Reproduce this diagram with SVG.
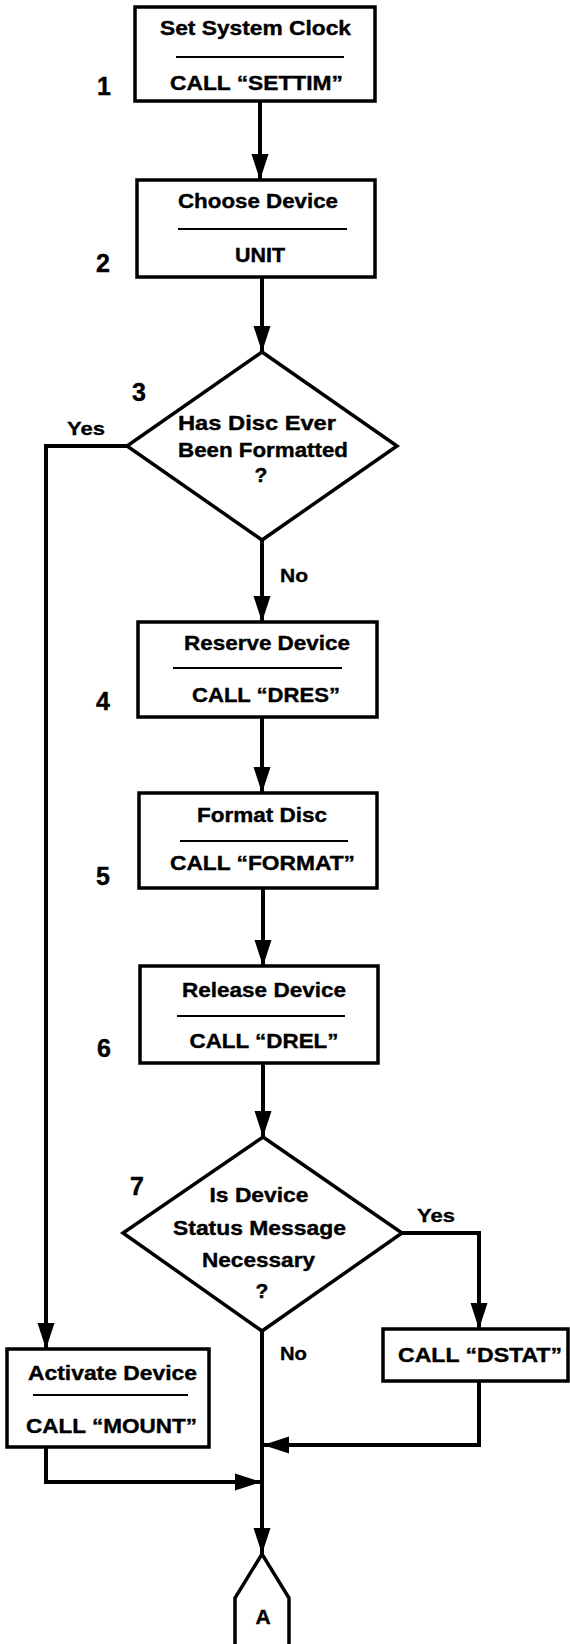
<svg xmlns="http://www.w3.org/2000/svg" width="570" height="1644" viewBox="0 0 570 1644">
  <style>
    .box { fill: #fff; stroke: #000; stroke-width: 3.5; }
    .rule { stroke: #000; stroke-width: 2; }
    .t { font-family: "Liberation Sans", Arial, Helvetica, sans-serif; font-weight: bold; font-size: 21px; fill: #000; stroke: #000; stroke-width: 0.4; text-anchor: middle; }
    .lbl { font-family: "Liberation Sans", Arial, Helvetica, sans-serif; font-weight: bold; font-size: 18px; fill: #000; stroke: #000; stroke-width: 0.3; }
    .num { font-family: "Liberation Sans", Arial, Helvetica, sans-serif; font-weight: bold; font-size: 25px; fill: #000; stroke: #000; stroke-width: 0.4; }
    .wire { fill: none; stroke: #000; stroke-width: 4; stroke-linejoin: miter; }
  </style>
  <defs>
    <marker id="arrow" markerUnits="userSpaceOnUse" markerWidth="26" markerHeight="18" refX="26" refY="9" orient="auto">
      <path d="M0,0.5 L26,9 L0,17.5 Z" fill="#000"/>
    </marker>
  </defs>

  <rect width="570" height="1644" fill="#fff"/>

  <!-- connectors -->
  <g id="connectors">
    <path class="wire" d="M260,101 L260,180" marker-end="url(#arrow)"/>
    <path class="wire" d="M262,277 L262,352" marker-end="url(#arrow)"/>
    <path class="wire" d="M262,540 L262,622" marker-end="url(#arrow)"/>
    <path class="wire" d="M262,717 L262,793" marker-end="url(#arrow)"/>
    <path class="wire" d="M263,888 L263,966" marker-end="url(#arrow)"/>
    <path class="wire" d="M263,1063 L263,1137" marker-end="url(#arrow)"/>
    <path class="wire" d="M127,446 L46,446 L46,1349" marker-end="url(#arrow)"/>
    <path class="wire" d="M402,1233 L479,1233 L479,1329" marker-end="url(#arrow)"/>
    <path class="wire" d="M262,1331 L262,1554" marker-end="url(#arrow)"/>
    <path class="wire" d="M479,1381 L479,1445 L263,1445" marker-end="url(#arrow)"/>
    <path class="wire" d="M46,1447 L46,1482 L261,1482" marker-end="url(#arrow)"/>
    <text class="lbl" x="67" y="435" textLength="38" lengthAdjust="spacingAndGlyphs">Yes</text>
    <text class="lbl" x="280" y="582" textLength="28" lengthAdjust="spacingAndGlyphs">No</text>
    <text class="lbl" x="417" y="1222" textLength="38" lengthAdjust="spacingAndGlyphs">Yes</text>
    <text class="lbl" x="280" y="1360" textLength="27" lengthAdjust="spacingAndGlyphs">No</text>
  </g>

  <!-- step 1 -->
  <g id="set-clock">
    <rect class="box" x="135" y="7" width="240" height="94"/>
    <line class="rule" x1="176" y1="57" x2="344" y2="57"/>
    <text class="t" x="255.5" y="35" textLength="191" lengthAdjust="spacingAndGlyphs">Set System Clock</text>
    <text class="t" x="256.5" y="90" textLength="173" lengthAdjust="spacingAndGlyphs">CALL “SETTIM”</text>
    <text class="num" x="97" y="95">1</text>
  </g>

  <!-- step 2 -->
  <g id="choose-device">
    <rect class="box" x="137" y="180" width="238" height="97"/>
    <line class="rule" x1="178" y1="229" x2="347" y2="229"/>
    <text class="t" x="258" y="208" textLength="160" lengthAdjust="spacingAndGlyphs">Choose Device</text>
    <text class="t" x="260" y="262" textLength="50" lengthAdjust="spacingAndGlyphs">UNIT</text>
    <text class="num" x="96" y="272">2</text>
  </g>

  <!-- step 3 -->
  <g id="formatted-check">
    <polygon class="box" points="262,352 397,446 262,540 127,446"/>
    <text class="t" x="257" y="430" textLength="158" lengthAdjust="spacingAndGlyphs">Has Disc Ever</text>
    <text class="t" x="263" y="457" textLength="170" lengthAdjust="spacingAndGlyphs">Been Formatted</text>
    <text class="t" x="261" y="482">?</text>
    <text class="num" x="132" y="401">3</text>
  </g>

  <!-- step 4 -->
  <g id="reserve-device">
    <rect class="box" x="138" y="622" width="239" height="95"/>
    <line class="rule" x1="173" y1="668" x2="342" y2="668"/>
    <text class="t" x="267" y="650" textLength="166" lengthAdjust="spacingAndGlyphs">Reserve Device</text>
    <text class="t" x="266" y="702" textLength="148" lengthAdjust="spacingAndGlyphs">CALL “DRES”</text>
    <text class="num" x="96" y="710">4</text>
  </g>

  <!-- step 5 -->
  <g id="format-disc">
    <rect class="box" x="139" y="793" width="238" height="95"/>
    <line class="rule" x1="180" y1="841" x2="348" y2="841"/>
    <text class="t" x="262" y="822" textLength="130" lengthAdjust="spacingAndGlyphs">Format Disc</text>
    <text class="t" x="262.5" y="870" textLength="185" lengthAdjust="spacingAndGlyphs">CALL “FORMAT”</text>
    <text class="num" x="96" y="885">5</text>
  </g>

  <!-- step 6 -->
  <g id="release-device">
    <rect class="box" x="140" y="966" width="238" height="97"/>
    <line class="rule" x1="177" y1="1016" x2="345" y2="1016"/>
    <text class="t" x="264" y="997" textLength="164" lengthAdjust="spacingAndGlyphs">Release Device</text>
    <text class="t" x="264" y="1048" textLength="149" lengthAdjust="spacingAndGlyphs">CALL “DREL”</text>
    <text class="num" x="97" y="1057">6</text>
  </g>

  <!-- step 7 -->
  <g id="status-check">
    <polygon class="box" points="263,1137 402,1233 262,1331 123,1233"/>
    <text class="t" x="259" y="1202" textLength="99" lengthAdjust="spacingAndGlyphs">Is Device</text>
    <text class="t" x="259.5" y="1235" textLength="173" lengthAdjust="spacingAndGlyphs">Status Message</text>
    <text class="t" x="258.5" y="1267" textLength="113" lengthAdjust="spacingAndGlyphs">Necessary</text>
    <text class="t" x="262" y="1298">?</text>
    <text class="num" x="130" y="1195">7</text>
  </g>

  <!-- status message -->
  <g id="dstat">
    <rect class="box" x="383" y="1329" width="185" height="52"/>
    <text class="t" x="480" y="1362" textLength="164" lengthAdjust="spacingAndGlyphs">CALL “DSTAT”</text>
  </g>

  <!-- activate device -->
  <g id="activate-device">
    <rect class="box" x="7" y="1349" width="202" height="98"/>
    <line class="rule" x1="33" y1="1395" x2="188" y2="1395"/>
    <text class="t" x="112.5" y="1380" textLength="169" lengthAdjust="spacingAndGlyphs">Activate Device</text>
    <text class="t" x="111.5" y="1433" textLength="171" lengthAdjust="spacingAndGlyphs">CALL “MOUNT”</text>
  </g>

  <!-- off-page connector -->
  <g id="connector-a">
    <path d="M235,1644 L235,1598 L262,1554 L289,1598 L289,1644" fill="#fff" stroke="#000" stroke-width="3.5"/>
    <text class="t" x="263" y="1624">A</text>
  </g>
</svg>
